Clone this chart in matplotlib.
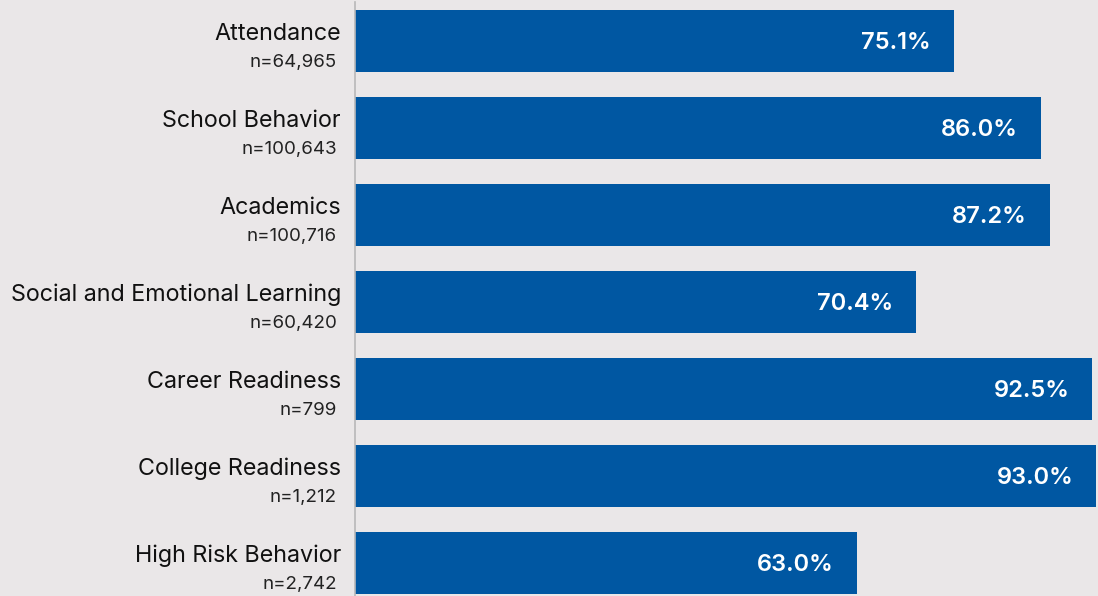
import matplotlib.pyplot as plt

categories = ['Attendance', 'School Behavior', 'Academics', 'Social and Emotional Learning',
              'Career Readiness', 'College Readiness', 'High Risk Behavior']
n_labels = ['n=64,965', 'n=100,643', 'n=100,716', 'n=60,420', 'n=799', 'n=1,212', 'n=2,742']
values = [75.1, 86.0, 87.2, 70.4, 92.5, 93.0, 63.0]

bg = '#eae7e8'
bar_color = '#0057a2'

plt.rcParams['font.family'] = ['Inter', 'DejaVu Sans']

fig = plt.figure(figsize=(10.98, 5.96), dpi=100, facecolor=bg)
ax = fig.add_axes([355 / 1098, 0, 1 - 355 / 1098, 594 / 596])
ax.set_facecolor(bg)

pos = list(range(len(categories)))
ax.barh(pos, values, height=0.713, color=bar_color)

ax.set_xlim(0, 93.2)
ax.set_ylim(6.379, -0.448)

for s in ['top', 'right', 'bottom']:
    ax.spines[s].set_visible(False)
ax.spines['left'].set_color('#b8b8b8')
ax.spines['left'].set_linewidth(1.2)
ax.set_xticks([])
ax.set_yticks([])

for i, (cat, n, v) in enumerate(zip(categories, n_labels, values)):
    # category name + sample size, right-aligned left of the axis
    ax.annotate(cat, xy=(0, i), xycoords=('axes fraction', 'data'),
                xytext=(-14, 1), textcoords='offset pixels',
                ha='right', va='baseline', fontsize=16.8, color='#111111')
    ax.annotate(n, xy=(0, i), xycoords=('axes fraction', 'data'),
                xytext=(-18, -26), textcoords='offset pixels',
                ha='right', va='baseline', fontsize=13.5, color='#222222')
    # value label inside the bar end
    ax.annotate(f'{v:.1f}%', xy=(v, i), xycoords='data',
                xytext=(-23, -8), textcoords='offset pixels',
                ha='right', va='baseline', fontsize=17, fontweight='semibold',
                color='white')

fig.savefig('out.png', dpi=100, facecolor=bg)
